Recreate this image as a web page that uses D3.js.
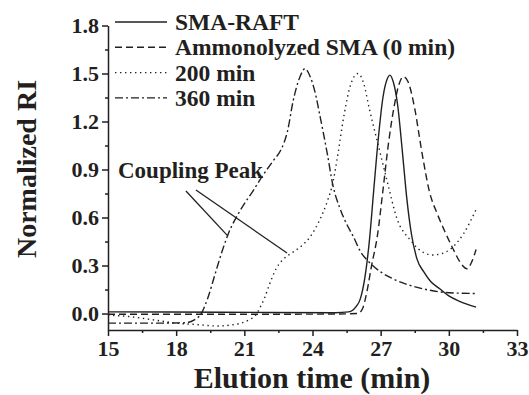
<!DOCTYPE html>
<html>
<head>
<meta charset="utf-8">
<script src="https://cdn.jsdelivr.net/npm/d3@7"></script>
<style>
  body { margin: 0; background: #fff; }
  text { font-family: "Liberation Serif", "Times New Roman", serif; font-weight: bold; fill: #231f20; }
</style>
</head>
<body>
<div id="chart"></div>
<script>
// elution time (min) / normalized RI
var smaRaft = [[15,0.01],[20,0.008],[25,0.005],[25.6,0.01],[25.9,0.04],[26.1,0.09],[26.3,0.22],[26.5,0.45],[26.7,0.78],[26.9,1.1],[27.1,1.35],[27.3,1.47],[27.4,1.49],[27.55,1.45],[27.75,1.3],[27.95,1.02],[28.15,0.72],[28.35,0.5],[28.6,0.34],[28.9,0.26],[29.2,0.2],[29.6,0.155],[30,0.11],[30.5,0.075],[31.2,0.04]];
var ammonolyzed = [[15,-0.005],[20,-0.005],[25,-0.003],[26,0.0],[26.2,0.03],[26.4,0.14],[26.6,0.3],[26.85,0.48],[27.1,0.77],[27.35,1.07],[27.6,1.3],[27.8,1.43],[28.0,1.48],[28.2,1.45],[28.5,1.28],[28.8,1.02],[29.15,0.76],[29.5,0.62],[29.8,0.52],[30.2,0.4],[30.5,0.32],[30.8,0.28],[31.0,0.32],[31.2,0.4]];
var min200 = [[15,-0.01],[16,-0.02],[17,-0.04],[18,-0.06],[19,-0.07],[19.8,-0.078],[20.5,-0.07],[21.2,-0.04],[21.5,-0.01],[21.7,0.04],[21.9,0.1],[22.1,0.18],[22.4,0.28],[22.8,0.35],[23.1,0.38],[23.5,0.42],[23.9,0.48],[24.3,0.58],[24.65,0.7],[24.9,0.82],[25.1,0.98],[25.4,1.25],[25.7,1.44],[26.0,1.5],[26.25,1.44],[26.5,1.28],[26.95,1.02],[27.35,0.79],[27.7,0.6],[28.3,0.46],[28.9,0.38],[29.3,0.366],[29.7,0.375],[30.05,0.4],[30.65,0.5],[31.2,0.65]];
var min360 = [[15,-0.06],[17,-0.06],[18.4,-0.058],[18.8,-0.04],[19.1,0.0],[19.4,0.1],[19.7,0.24],[20.0,0.38],[20.3,0.5],[20.8,0.64],[21.4,0.77],[21.8,0.86],[22.3,0.96],[22.6,1.02],[22.9,1.14],[23.15,1.33],[23.45,1.48],[23.67,1.53],[23.9,1.48],[24.1,1.39],[24.35,1.22],[24.65,1.0],[24.9,0.8],[25.2,0.66],[25.5,0.56],[25.8,0.48],[26.1,0.39],[26.5,0.32],[27.0,0.26],[27.5,0.22],[28.2,0.18],[29.0,0.15],[30,0.13],[31.2,0.125]];

var seriesNames = ['SMA-RAFT', 'Ammonolyzed SMA (0 min)', '200 min', '360 min'];
var xTicks = [15, 18, 21, 24, 27, 30, 33];
var yTicks = [0.0, 0.3, 0.6, 0.9, 1.2, 1.5, 1.8];
// arrows of the "Coupling Peak" note, in data units
var couplingLines = [[[18.43,0.766],[20.28,0.484]], [[18.87,0.772],[22.88,0.378]]];

var svg = d3.select('#chart')
    .append('svg')
    .attr('width', 529)
    .attr('height', 395);

var x = d3.scaleLinear().domain([15, 33]).range([108, 517]);
var y = d3.scaleLinear().domain([-0.103, 1.8]).range([330, 25.5]);

var series = [
    { name: seriesNames[0], data: smaRaft, dash: null },
    { name: seriesNames[1], data: ammonolyzed, dash: '7,4' },
    { name: seriesNames[2], data: min200, dash: '1.4,3.6' },
    { name: seriesNames[3], data: min360, dash: '8,3,2,3' }
];

var line = d3.line()
    .x(d => x(d[0]))
    .y(d => y(d[1]))
    .curve(d3.curveMonotoneX);

svg.append('g')
    .selectAll('path')
    .data(series)
    .enter()
    .append('path')
    .attr('d', d => line(d.data))
    .style('fill', 'none')
    .style('stroke', '#231f20')
    .style('stroke-width', 1.4)
    .style('stroke-dasharray', d => d.dash);

// axes
var xAxis = svg.append('g')
    .attr('transform', 'translate(0,330)')
    .call(d3.axisBottom(x).tickValues(xTicks).tickFormat(d3.format('d')).tickSize(6).tickSizeOuter(0));
svg.append('g')
    .attr('transform', 'translate(0,330)')
    .call(d3.axisBottom(x).tickValues(d3.range(16.5, 33, 3)).tickFormat('').tickSize(3).tickSizeOuter(0))
    .select('.domain').remove();

var yAxis = svg.append('g')
    .attr('transform', 'translate(108,0)')
    .call(d3.axisLeft(y).tickValues(yTicks).tickFormat(d3.format('.1f')).tickSize(6).tickSizeOuter(0));
svg.append('g')
    .attr('transform', 'translate(108,0)')
    .call(d3.axisLeft(y).tickValues(d3.range(0.15, 1.8, 0.3)).tickFormat('').tickSize(3).tickSizeOuter(0))
    .select('.domain').remove();

svg.selectAll('.domain, .tick line')
    .style('stroke', '#231f20')
    .style('stroke-width', 1.5);

xAxis.selectAll('text')
    .attr('dy', '0.71em')
    .attr('y', 10)
    .style('font-family', '"Liberation Serif", serif')
    .style('font-weight', 'bold')
    .style('font-size', '22px')
    .style('fill', '#231f20');
yAxis.selectAll('text')
    .attr('x', -9)
    .style('font-family', '"Liberation Serif", serif')
    .style('font-weight', 'bold')
    .style('font-size', '22px')
    .style('fill', '#231f20');

// axis titles
svg.append('text')
    .attr('x', 312)
    .attr('y', 388)
    .style('font-size', '30px')
    .style('text-anchor', 'middle')
    .text('Elution time (min)');

svg.append('text')
    .attr('transform', 'translate(36,169) rotate(-90)')
    .style('font-size', '28px')
    .style('text-anchor', 'middle')
    .text('Normalized RI');

// legend
var legend = svg.append('g')
    .selectAll('g')
    .data(series)
    .enter()
    .append('g')
    .attr('transform', (d, i) => 'translate(115,' + (22 + i * 25.3) + ')');
legend.append('line')
    .attr('x1', 0)
    .attr('x2', 52)
    .style('stroke', '#231f20')
    .style('stroke-width', 1.4)
    .style('stroke-dasharray', d => d.dash);
legend.append('text')
    .attr('x', 60)
    .attr('y', 8)
    .style('font-size', '23.5px')
    .text(d => d.name);

// coupling peak note
svg.append('text')
    .attr('x', 118)
    .attr('y', 178)
    .style('font-size', '23px')
    .text('Coupling Peak');

svg.append('g')
    .selectAll('line')
    .data(couplingLines)
    .enter()
    .append('line')
    .attr('x1', d => x(d[0][0]))
    .attr('y1', d => y(d[0][1]))
    .attr('x2', d => x(d[1][0]))
    .attr('y2', d => y(d[1][1]))
    .style('stroke', '#231f20')
    .style('stroke-width', 1.3);
</script>
</body>
</html>
